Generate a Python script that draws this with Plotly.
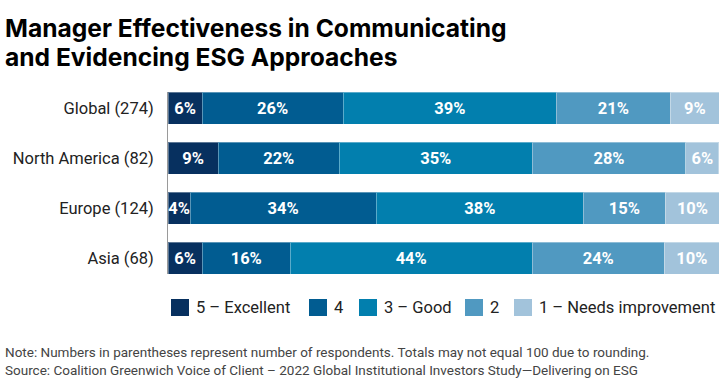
import plotly.graph_objects as go

regions = ["Global (274)", "North America (82)", "Europe (124)", "Asia (68)"]
series_names = ["5 – Excellent", "4", "3 – Good", "2", "1 – Needs improvement"]
# bar widths (share of respondents)
values = [
    [6.2, 9.1, 4.0, 6.2],      # 5 – Excellent
    [25.6, 22.0, 33.8, 16.0],  # 4
    [38.7, 35.0, 37.6, 43.9],  # 3 – Good
    [20.7, 27.9, 14.9, 24.0],  # 2
    [8.9, 6.0, 9.8, 10.0],     # 1 – Needs improvement
]
# printed labels
labels = [
    [6, 9, 4, 6],
    [26, 22, 34, 16],
    [39, 35, 38, 44],
    [21, 28, 15, 24],
    [9, 6, 10, 10],
]
colors = ["#07305f", "#015c91", "#027fae", "#5099c1", "#a2c3db"]
title_lines = ["Manager Effectiveness in Communicating", "and Evidencing ESG Approaches"]

W, H = 720, 385
L, R, T, B = 168, 0, 92, 111
PW, PH = W - L - R, H - T - B


def px(x):
    return (x - L) / PW


def py(y):
    return (H - B - y) / PH


fig = go.Figure()
for name, vals, labs, col in zip(series_names, values, labels, colors):
    fig.add_trace(go.Bar(
        y=regions, x=vals, name=name, orientation="h",
        marker=dict(color=col, line=dict(color="rgba(255,255,255,0.35)", width=1)),
        text=[f"{v}%" for v in labs], textposition="inside", textangle=0,
        insidetextanchor="middle", constraintext="none",
        textfont=dict(family="Roboto", size=16.5, color="white", weight="bold"),
        width=0.64, cliponaxis=False, showlegend=False,
    ))

# legend drawn as squares + labels
leg_x = [171, 309, 359, 465, 514]
shapes = []
annotations = []
for name, col, lx in zip(series_names, colors, leg_x):
    shapes.append(dict(type="rect", xref="paper", yref="paper",
                       x0=px(lx), x1=px(lx + 18), y0=py(316), y1=py(299),
                       fillcolor=col, line=dict(width=0)))
    annotations.append(dict(text=name, xref="paper", yref="paper",
                            x=px(lx + 23), y=py(307.5), xanchor="left", yanchor="middle",
                            showarrow=False,
                            font=dict(family="Roboto", size=16.5, color="#222222")))

for i, line in enumerate(title_lines):
    annotations.append(dict(
        text=line, xref="paper", yref="paper", x=px(3), y=py(11 + 29 * i),
        xanchor="left", yanchor="top", showarrow=False, align="left",
        font=dict(family="Inter", size=24.6, color="#000000", weight="bold"),
    ))
annotations.append(dict(
    text="Note: Numbers in parentheses represent number of respondents. Totals may not equal 100 due to rounding.<br>"
         "Source: Coalition Greenwich Voice of Client – 2022 Global Institutional Investors Study—Delivering on ESG",
    xref="paper", yref="paper", x=px(3), y=py(342), xanchor="left", yanchor="top",
    showarrow=False, align="left",
    font=dict(family="Roboto", size=13.5, color="#444444"),
))

fig.update_layout(
    barmode="stack",
    width=W, height=H,
    margin=dict(l=L, r=R, t=T, b=B, autoexpand=False),
    paper_bgcolor="white", plot_bgcolor="white",
    xaxis=dict(range=[0, 100.2], visible=False, fixedrange=True),
    yaxis=dict(
        categoryorder="array", categoryarray=regions,
        range=[3.32, -0.32], showline=True, linecolor="#9a9a9a", linewidth=1,
        ticks="", ticklabelstandoff=10, showgrid=False,
        tickfont=dict(family="Roboto", size=16.5, color="#222222"),
    ),
    showlegend=False,
    shapes=shapes,
    annotations=annotations,
)

fig.write_html("out.html", post_script="document.body.style.margin='0';",
               config={"displayModeBar": False})
